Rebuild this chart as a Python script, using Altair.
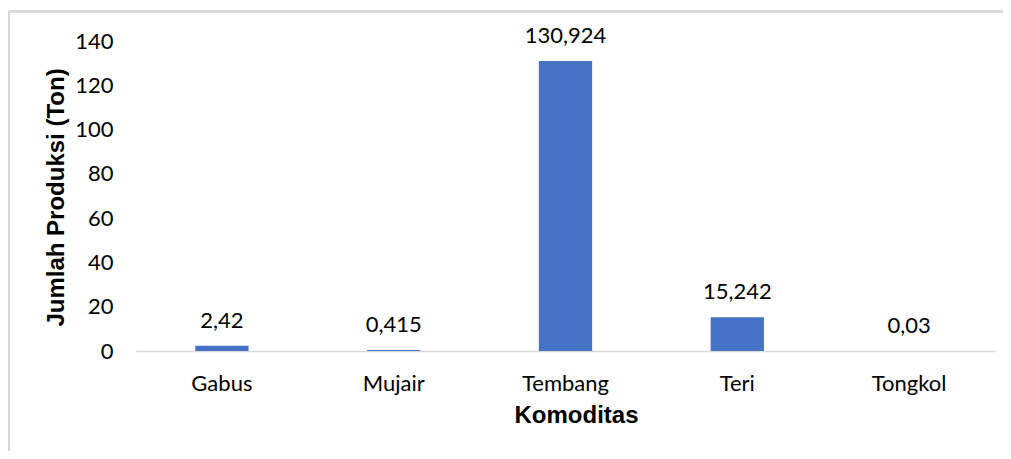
import altair as alt
import pandas as pd

categories = ["Gabus", "Mujair", "Tembang", "Teri", "Tongkol"]
values = [2.42, 0.415, 130.924, 15.242, 0.03]
y_ticks = [0, 20, 40, 60, 80, 100, 120, 140]

df = pd.DataFrame({"Komoditas": categories, "Jumlah": values})

LABEL_FONT = "Lato"
TITLE_FONT = "Liberation Sans"
LABEL_SIZE = 22

x_enc = alt.X(
    "Komoditas:N",
    sort=categories,
    scale=alt.Scale(paddingInner=0.69, paddingOuter=0.345),
    axis=alt.Axis(
        title="Komoditas",
        labelAngle=0,
        labelFont=LABEL_FONT,
        labelFontSize=LABEL_SIZE,
        labelColor="#000000",
        labelPadding=22,
        labelBaseline="top",
        ticks=False,
        tickSize=0,
        domainColor="#d9d9d9",
        domainWidth=1.5,
        titleFont=TITLE_FONT,
        titleFontSize=24,
        titleFontWeight="bold",
        titleColor="#000000",
        titleX=440,
        titleY=71,
        titleBaseline="alphabetic",
        titleAlign="center",
    ),
)

y_enc = alt.Y(
    "Jumlah:Q",
    scale=alt.Scale(domain=[0, 140], nice=False),
    axis=alt.Axis(
        title="Jumlah Produksi (Ton)",
        values=y_ticks,
        grid=False,
        domain=False,
        ticks=False,
        tickSize=0,
        labelFont=LABEL_FONT,
        labelFontSize=LABEL_SIZE,
        labelColor="#000000",
        labelPadding=23,
        labelBaseline="middle",
        titleFont=TITLE_FONT,
        titleFontSize=24,
        titleFontWeight="bold",
        titleColor="#000000",
        titleAngle=-90,
        titleX=-73,
        titleY=156,
        titleBaseline="alphabetic",
        titleAlign="center",
    ),
)

bars = alt.Chart(df).mark_bar(color="#4472C4").encode(x=x_enc, y=y_enc)

texts = (
    alt.Chart(df)
    .transform_calculate(label="replace(toString(datum.Jumlah), '.', ',')")
    .mark_text(font=LABEL_FONT, fontSize=LABEL_SIZE, color="#000000", baseline="alphabetic", dy=-18)
    .encode(x=alt.X("Komoditas:N", sort=categories), y="Jumlah:Q", text="label:N")
)

frame_top = alt.Chart(df).mark_rule(color="#d9d9d9", strokeWidth=2).encode(
    x=alt.value(-127), x2=alt.value(880), y=alt.value(-29.5)
)
frame_left = alt.Chart(df).mark_rule(color="#d9d9d9", strokeWidth=2).encode(
    x=alt.value(-127), y=alt.value(-30), y2=alt.value(410)
)

chart = (
    alt.layer(frame_top, frame_left, bars, texts)
    .properties(
        width=859,
        height=310,
        autosize=alt.AutoSizeParams(type="none"),
        padding={"left": 128, "top": 33, "right": 8, "bottom": 100},
        background="white",
    )
    .configure_view(stroke=None, strokeWidth=0)
)

chart.save("out.html", embed_options={"renderer": "svg", "actions": False})
